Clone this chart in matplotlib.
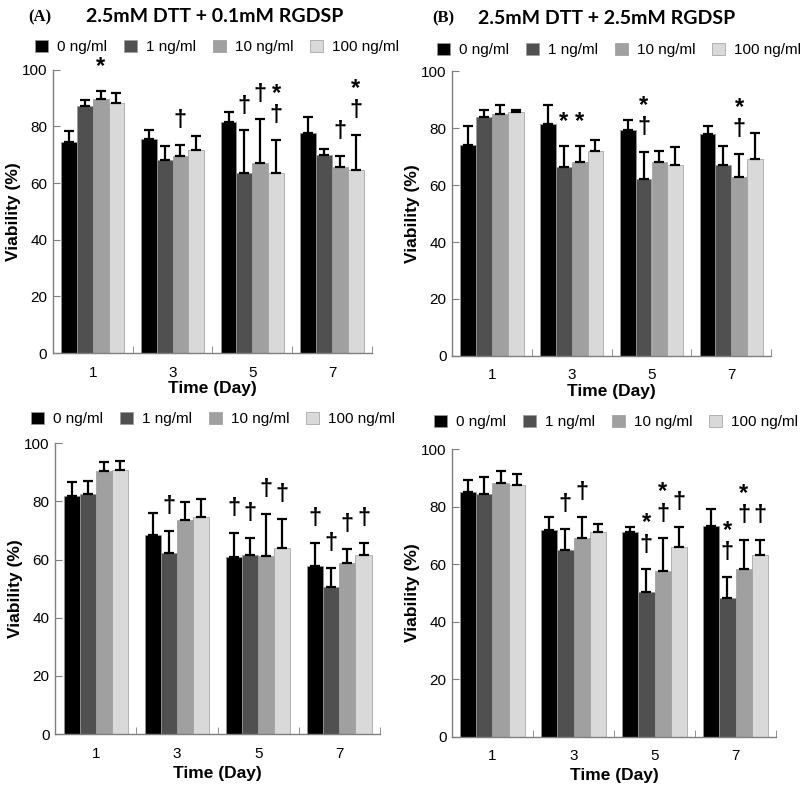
import numpy as np
import matplotlib
matplotlib.use('Agg')
import matplotlib.pyplot as plt
from matplotlib.patches import Patch

plt.rcParams['font.family'] = ['Liberation Sans', 'DejaVu Sans']

# ---- data ----
days = ['1', '3', '5', '7']
conc_labels = ['0 ng/ml', '1 ng/ml', '10 ng/ml', '100 ng/ml']
colors = ['#000000', '#505050', '#a0a0a0', '#d9d9d9']

# rows = concentration, columns = day
A_mean = [[74.5, 75.5, 81.5, 77.8],
          [87.3, 68.3, 63.4, 69.9],
          [89.6, 69.5, 67.2, 65.6],
          [88.3, 71.6, 63.6, 64.6]]
A_err = [[3.9, 3.1, 3.5, 5.6],
         [2.2, 4.7, 15.2, 2.3],
         [3.1, 4.1, 15.5, 4.1],
         [3.5, 5.2, 11.7, 12.4]]

B_mean = [[74.1, 81.5, 79.5, 77.8],
          [84.0, 66.3, 62.1, 67.1],
          [84.8, 68.0, 68.0, 62.7],
          [85.8, 71.9, 67.1, 69.1]]
B_err = [[6.6, 6.7, 3.5, 2.8],
         [2.5, 7.4, 9.6, 6.7],
         [3.5, 5.9, 4.0, 8.3],
         [0.6, 4.1, 6.3, 9.2]]

C_mean = [[81.9, 68.5, 60.9, 57.8],
          [82.7, 62.3, 61.6, 50.5],
          [90.5, 73.8, 61.3, 58.7],
          [90.8, 74.8, 63.9, 61.6]]
C_err = [[4.9, 7.4, 8.1, 8.0],
         [4.4, 7.6, 5.9, 6.7],
         [3.0, 6.0, 14.3, 4.8],
         [3.2, 6.0, 10.0, 4.0]]

D_mean = [[85.3, 71.9, 71.2, 73.3],
          [84.4, 65.0, 50.5, 48.4],
          [88.4, 69.0, 57.7, 58.2],
          [87.5, 71.3, 66.1, 63.2]]
D_err = [[4.0, 4.4, 1.9, 5.9],
         [6.1, 7.2, 7.7, 7.3],
         [4.1, 7.5, 11.3, 10.2],
         [3.9, 2.9, 6.8, 5.2]]

# significance marks: (day index, concentration index, text)
A_marks = [(0, 2, '*'), (1, 2, '†'), (2, 1, '†'), (2, 2, '†'), (2, 3, '*\n†'),
           (3, 2, '†'), (3, 3, '*\n†')]
B_marks = [(1, 1, '*'), (1, 2, '*'), (2, 1, '*\n†'), (3, 2, '*\n†')]
C_marks = [(1, 1, '†'), (2, 0, '†'), (2, 1, '†'), (2, 2, '†'), (2, 3, '†'),
           (3, 0, '†'), (3, 1, '†'), (3, 2, '†'), (3, 3, '†')]
D_marks = [(1, 1, '†'), (1, 2, '†'), (2, 1, '*\n†'), (2, 2, '*\n†'), (2, 3, '†'),
           (3, 1, '*\n†'), (3, 2, '*\n†'), (3, 3, '†')]

W, H = 800, 791
fig = plt.figure(figsize=(8, 7.91), dpi=100)

bar_w = 0.198


def panel(rect, mean, err, marks, legend_xy, xlab_y):
    ax = fig.add_axes(rect)
    x = np.arange(len(days)) + 0.5
    for i in range(len(conc_labels)):
        xs = x + (i - 1.5) * bar_w
        m = np.array(mean[i])
        e = np.array(err[i])
        ax.bar(xs, m, width=bar_w, color=colors[i], edgecolor='#9a9a9a', linewidth=0.5, zorder=2)
        ax.errorbar(xs, m, yerr=[np.zeros_like(e), e], fmt='none', ecolor='black',
                    elinewidth=1.6, capsize=3.5, capthick=1.6, zorder=3)
    for d, c, txt in marks:
        xm = x[d] + (c - 1.5) * bar_w
        ym = mean[c][d] + err[c][d] + 4.5
        ax.text(xm, ym, txt, ha='center', va='bottom', fontsize=17, fontweight='bold',
                linespacing=0.95, zorder=4)
    ax.set_xlim(0, 4)
    ax.set_ylim(0, 100)
    ax.set_yticks(range(0, 101, 20))
    ax.set_xticks(x)
    ax.set_xticklabels(days, fontsize=11)
    ax.set_xticks([1, 2, 3, 4], minor=True)
    ax.tick_params(axis='x', which='major', length=0, pad=9)
    ax.tick_params(axis='x', which='minor', direction='in', length=5, color='#7f7f7f')
    ax.tick_params(axis='y', direction='in', length=5, color='#7f7f7f', labelsize=11, pad=4)
    for s in ['top', 'right']:
        ax.spines[s].set_visible(False)
    for s in ['left', 'bottom']:
        ax.spines[s].set_color('#7f7f7f')
        ax.spines[s].set_linewidth(1.0)
    ax.set_ylabel('Viability (%)', fontsize=12.5, fontweight='bold')
    ax.yaxis.set_label_coords(-0.10, 0.5)
    ax.set_xlabel('Time (Day)', fontsize=12.5, fontweight='bold')
    ax.xaxis.set_label_coords(0.5, xlab_y)
    handles = [Patch(facecolor=colors[i], edgecolor='#9a9a9a', linewidth=0.5) for i in range(4)]
    fig.legend(handles, conc_labels, loc='center', ncol=4, frameon=False,
               bbox_to_anchor=(legend_xy[0] / W, 1 - legend_xy[1] / H),
               bbox_transform=fig.transFigure, fontsize=11,
               handlelength=0.85, handleheight=0.85, handletextpad=0.6,
               columnspacing=1.1)
    return ax


panel([0.066, 0.5537, 0.399, 0.358], A_mean, A_err, A_marks, (217, 47), -0.10)
panel([0.565, 0.550, 0.399, 0.360], B_mean, B_err, B_marks, (619, 50), -0.10)
panel([0.069, 0.072, 0.406, 0.3675], C_mean, C_err, C_marks, (213, 419), -0.11)
panel([0.565, 0.0686, 0.405, 0.3633], D_mean, D_err, D_marks, (616, 422), -0.11)

fig.text(40 / W, 1 - 17 / H, '(A)', ha='center', va='center', fontsize=12,
         fontweight='bold', family='Liberation Serif')
fig.text(215 / W, 1 - 17 / H, '2.5mM DTT + 0.1mM RGDSP', ha='center', va='center',
         fontsize=14, fontweight='bold', family='Lato')
fig.text(443 / W, 1 - 18 / H, '(B)', ha='center', va='center', fontsize=12,
         fontweight='bold', family='Liberation Serif')
fig.text(607 / W, 1 - 18 / H, '2.5mM DTT + 2.5mM RGDSP', ha='center', va='center',
         fontsize=14, fontweight='bold', family='Lato')

plt.savefig('out.png', dpi=100)
